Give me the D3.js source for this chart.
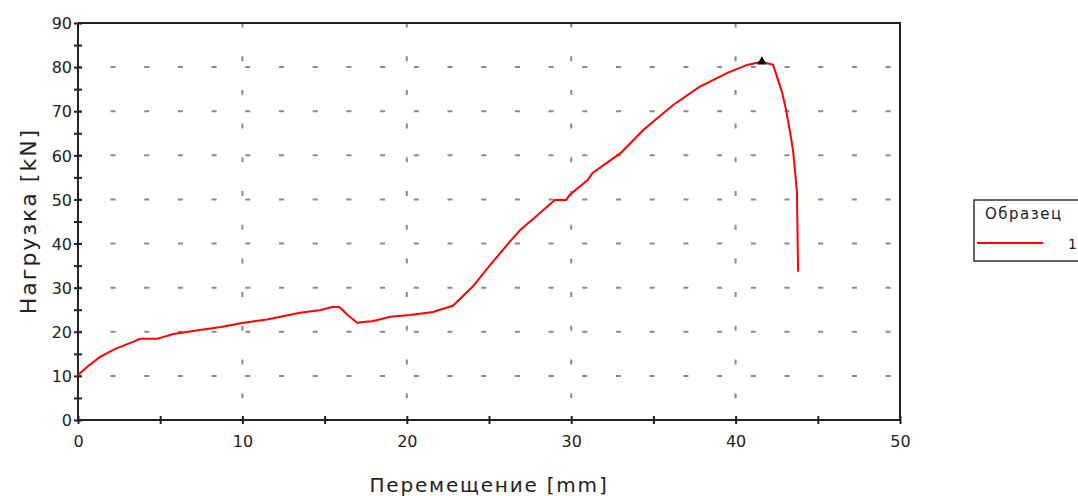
<!DOCTYPE html>
<html>
<head>
<meta charset="utf-8">
<script src="https://cdn.jsdelivr.net/npm/d3@7"></script>
<style>
    body { margin: 0; background: #fff; }
    text { font-family: "DejaVu Sans", Verdana, sans-serif; fill: #222; }
</style>
</head>
<body>
<div id="chart"></div>
<script>
// Displacement [mm] and load [kN]
const displacement = [0, 0.6, 1.34, 2.3, 3.35, 3.77, 4.8, 5.8, 7.4, 8.7, 10, 11.5, 13.5, 14.7, 15.45, 15.9,
    16.4, 17.0, 17.3, 17.9, 19.0, 20.2, 21.6, 22.0, 22.8, 24.0, 25.06, 26.1, 26.9, 28.1, 29.0, 29.7,
    29.9, 31.0, 31.3, 33.0, 34.4, 36.2, 37.8, 39.5, 40.7, 41.6, 42.28, 42.52, 42.82, 43.07, 43.31,
    43.49, 43.61, 43.73, 43.8];
const load = [10.2, 12.2, 14.3, 16.2, 17.7, 18.4, 18.4, 19.5, 20.4, 21.1, 22.0, 22.8, 24.3, 24.9, 25.6, 25.6,
    23.8, 22.0, 22.2, 22.4, 23.4, 23.8, 24.5, 25.0, 25.9, 30.2, 35.1, 39.7, 43.1, 46.9, 49.9, 49.9,
    51.0, 54.4, 56.0, 60.5, 65.8, 71.4, 75.5, 78.7, 80.5, 81.2, 80.5, 77.8, 74.4, 70.3, 65.3,
    61.2, 56.7, 51.7, 33.6];
const peak = {x: 41.6, y: 81.2};

const xTicks = [0, 10, 20, 30, 40, 50];
const yTicks = [0, 10, 20, 30, 40, 50, 60, 70, 80, 90];
const xGrid = [10, 20, 30, 40];
const yGrid = [10, 20, 30, 40, 50, 60, 70, 80];
const seriesNames = ['1'];

class LoadChart {
    constructor(_config) {
        this.config = {
            parentElement: _config.parentElement,
            containerWidth: _config.containerWidth || 1078,
            containerHeight: _config.containerHeight || 496,
            margin: _config.margin || {top: 23, right: 178, bottom: 76, left: 78}
        }
        this.initVis();
    }

    initVis() {
        let vis = this;
        vis.width = vis.config.containerWidth - vis.config.margin.left - vis.config.margin.right;
        vis.height = vis.config.containerHeight - vis.config.margin.top - vis.config.margin.bottom;

        vis.svg = d3.select(vis.config.parentElement).append('svg')
            .attr('width', vis.config.containerWidth)
            .attr('height', vis.config.containerHeight);

        vis.chart = vis.svg.append('g')
            .attr('transform', `translate(${vis.config.margin.left},${vis.config.margin.top})`);

        vis.x = d3.scaleLinear().domain([0, 50]).range([0, vis.width]);
        vis.y = d3.scaleLinear().domain([0, 90]).range([vis.height, 0]);

        vis.renderVis();
    }

    renderVis() {
        let vis = this;
        const period = 33.7;

        // dashed grid
        vis.chart.selectAll('.hgrid').data(yGrid).join('line')
            .attr('class', 'hgrid')
            .attr('x1', 0).attr('x2', vis.width)
            .attr('y1', d => vis.y(d)).attr('y2', d => vis.y(d))
            .attr('stroke', '#8a8a8a').attr('stroke-width', 2)
            .attr('stroke-dasharray', `5,${period - 5}`)
            .attr('stroke-dashoffset', period - 32.5);

        vis.chart.selectAll('.vgrid').data(xGrid).join('line')
            .attr('class', 'vgrid')
            .attr('x1', d => vis.x(d)).attr('x2', d => vis.x(d))
            .attr('y1', vis.height).attr('y2', 0)
            .attr('stroke', '#8a8a8a').attr('stroke-width', 2)
            .attr('stroke-dasharray', `5,${period - 5}`)
            .attr('stroke-dashoffset', period - 21.8);

        // frame: top and right
        vis.chart.append('path')
            .attr('d', `M0,0H${vis.width}V${vis.height}`)
            .attr('fill', 'none').attr('stroke', '#222').attr('stroke-width', 2);

        // axes, ticks every 5, labels every 10
        const xAxis = d3.axisBottom(vis.x).tickValues(d3.range(0, 51, 5))
            .tickSize(4)
            .tickFormat(d => xTicks.includes(d) ? d : '');
        const yAxis = d3.axisLeft(vis.y).tickValues(d3.range(0, 91, 5))
            .tickSize(4)
            .tickFormat(d => yTicks.includes(d) ? d : '');

        const gx = vis.chart.append('g')
            .attr('transform', `translate(0,${vis.height})`)
            .call(xAxis);
        gx.selectAll('line').attr('y1', -4).attr('y2', 4);
        gx.selectAll('text').attr('y', 16).attr('dy', '0.71em');
        gx.select('.domain').attr('d', `M0,0H${vis.width}`);

        const gy = vis.chart.append('g').call(yAxis);
        gy.selectAll('line').attr('x1', 4).attr('x2', -4);
        gy.selectAll('text').attr('x', -6).attr('dy', '0.36em');
        gy.select('.domain').attr('d', `M0,0V${vis.height}`);

        vis.svg.selectAll('.domain, .tick line').attr('stroke', '#222').attr('stroke-width', 2);
        vis.svg.selectAll('.tick text')
            .style('font-family', '"DejaVu Sans", Verdana, sans-serif')
            .style('font-size', '16px').attr('fill', '#222');

        // curve
        const pts = displacement.map((d, i) => [d, load[i]]);
        vis.chart.append('path')
            .datum(pts)
            .attr('fill', 'none')
            .attr('stroke', '#ff0000')
            .attr('stroke-width', 2)
            .attr('d', d3.line().x(d => vis.x(d[0])).y(d => vis.y(d[1])));

        // peak marker
        vis.chart.append('path')
            .attr('d', d3.symbol().type(d3.symbolTriangle).size(40))
            .attr('transform', `translate(${vis.x(peak.x)},${vis.y(peak.y)})`)
            .attr('fill', '#000');

        // axis titles
        vis.svg.append('text')
            .attr('x', vis.config.margin.left + vis.width / 2)
            .attr('y', 492)
            .attr('text-anchor', 'middle')
            .style('font-size', '20px')
            .style('letter-spacing', '1.8px')
            .text('Перемещение [mm]');

        vis.svg.append('text')
            .attr('transform', `translate(36,${vis.config.margin.top + 198}) rotate(-90)`)
            .attr('text-anchor', 'middle')
            .style('font-size', '22px')
            .style('letter-spacing', '2px')
            .text('Нагрузка [kN]');

        // legend
        const lg = vis.svg.append('g').attr('transform', 'translate(974,200)');
        lg.append('rect')
            .attr('width', 130).attr('height', 61)
            .attr('fill', '#fff').attr('stroke', '#333').attr('stroke-width', 1.5);
        lg.append('text')
            .attr('x', 11).attr('y', 19)
            .style('font-size', '15px')
            .style('letter-spacing', '1.5px')
            .text('Образец');
        seriesNames.forEach((name, i) => {
            lg.append('line')
                .attr('x1', 3).attr('x2', 69)
                .attr('y1', 43 + i * 18).attr('y2', 43 + i * 18)
                .attr('stroke', '#ff0000').attr('stroke-width', 2);
            lg.append('text')
                .attr('x', 94).attr('y', 49 + i * 18)
                .style('font-size', '14px')
                .text(name);
        });
    }
}

new LoadChart({parentElement: '#chart'});
</script>
</body>
</html>
